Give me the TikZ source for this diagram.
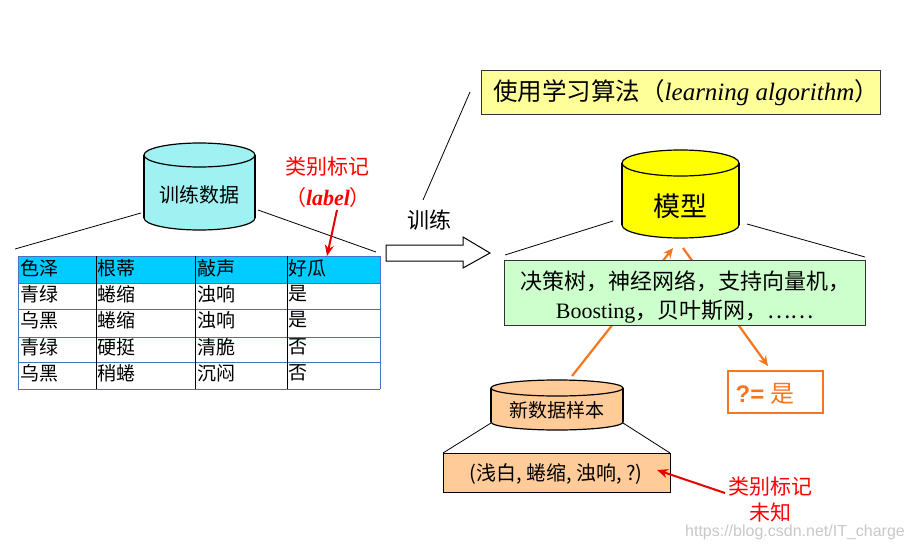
\documentclass[tikz,border=0pt]{standalone}
\usepackage{fontspec}
\setmainfont{Liberation Serif}
\newfontfamily\cjk{Noto Sans CJK SC}
\newfontfamily\wmfont{Liberation Sans}
\usetikzlibrary{arrows.meta}
\definecolor{cylcyan}{RGB}{160,242,242}
\definecolor{hdrcyan}{RGB}{0,204,255}
\definecolor{tblue}{RGB}{68,114,196}
\definecolor{lyellow}{RGB}{255,255,153}
\definecolor{myyellow}{RGB}{255,255,0}
\definecolor{lgreen}{RGB}{204,255,204}
\definecolor{peach}{RGB}{255,204,153}
\definecolor{myorange}{RGB}{245,118,30}
\definecolor{myred}{RGB}{255,0,0}
\definecolor{arrred}{RGB}{230,0,0}
\definecolor{wmgray}{RGB}{200,200,200}
\newcommand\drawmycyl[6]{%
  \filldraw[fill=#6,draw=black,line width=1.2pt] (#1,#3-#5) ellipse [x radius=#4pt, y radius=#5pt];
  \fill[#6] (#1-#4,#2+#5) rectangle (#1+#4,#3-#5);
  \draw[line width=1.2pt] (#1-#4,#2+#5) -- (#1-#4,#3-#5) (#1+#4,#2+#5) -- (#1+#4,#3-#5);
  \filldraw[fill=#6,draw=black,line width=1.2pt] (#1,#2+#5) ellipse [x radius=#4pt, y radius=#5pt];
}
\tikzset{
  lead/.style={line width=0.8pt,black},
  cell/.style={anchor=west,inner sep=0pt,font=\cjk\fontsize{19}{19}\selectfont},
  orarrow/.style={myorange,line width=2.2pt,-{Stealth[length=10pt,width=9pt]}},
  redarrow/.style={arrred,line width=2pt,-{Stealth[length=11pt,width=9pt]}},
  redtext/.style={myred,inner sep=0pt,font=\cjk\fontsize{21}{21}\selectfont},
}
\begin{document}
\begin{tikzpicture}[x=1pt,y=-1pt]
\useasboundingbox (0,0) rectangle (913,551);
\fill[white] (0,0) rectangle (913,551);

% ---------- training data cylinder ----------
\drawmycyl{199.5}{143}{230}{55.5}{12}{cylcyan}
\node[inner sep=0pt,font=\cjk\fontsize{20}{20}\selectfont] (train) at (199.5,195) {训练数据};
\coordinate (trL) at (141,213);
\coordinate (trR) at (258,210);
\coordinate (tbL) at (15,249);
\coordinate (tbR) at (376,252);
\draw[lead] (trL) -- (tbL);
\draw[lead] (trR) -- (tbR);

% ---------- table ----------
\fill[hdrcyan] (18,256) rectangle (380,283);
\foreach \y in {256,283,309,337,362,389} \draw[tblue,line width=0.8pt] (18,\y) -- (380,\y);
\draw[tblue,line width=0.8pt] (18,256) -- (18,389) (380,256) -- (380,389);
\foreach \x in {96,195,287} \draw[black,line width=0.9pt] (\x,256) -- (\x,389);
\foreach \y/\a/\b/\c/\d [count=\r] in {268/色泽/根蒂/敲声/好瓜,294/青绿/蜷缩/浊响/是,320/乌黑/蜷缩/浊响/是,347/青绿/硬挺/清脆/否,373/乌黑/稍蜷/沉闷/否}{
  \node[cell] (c\r a) at (20,\y) {\a};
  \node[cell] (c\r b) at (97,\y) {\b};
  \node[cell] (c\r c) at (197,\y) {\c};
  \node[cell] (c\r d) at (288,\y) {\d};
}

% ---------- label annotation ----------
\node[redtext] (lbl1) at (327,167) {类别标记};
\node[myred,inner sep=0pt] (lbl2) at (328,198) {{\cjk\fontsize{21}{21}\selectfont （}{\fontsize{22}{22}\selectfont\bfseries\itshape label}{\cjk\fontsize{21}{21}\selectfont ）}};
\coordinate (lblA) at (337,210);
\coordinate (lblB) at (327,256);
\draw[redarrow] (lblA) -- (lblB);

% ---------- training block arrow ----------
\node[inner sep=0pt,font=\cjk\fontsize{22}{22}\selectfont] (trtext) at (429,220) {训练};
\coordinate (ba1) at (386,245);
\coordinate (ba2) at (463,245);
\coordinate (ba3) at (463,237);
\coordinate (ba4) at (490,253);
\coordinate (ba5) at (463,268);
\coordinate (ba6) at (463,261);
\coordinate (ba7) at (386,261);
\draw[line width=1pt,fill=white] (ba1) -- (ba2) -- (ba3) -- (ba4) -- (ba5) -- (ba6) -- (ba7) -- cycle;

% ---------- algorithm box ----------
\node[draw=black!80,line width=1.2pt,fill=lyellow,minimum width=399pt,minimum height=44pt,anchor=north west,inner sep=0pt] (algo) at (481,70) {};
\node[inner sep=0pt] (algotext) at (686,93) {{\cjk\fontsize{24.5}{24.5}\selectfont 使用学习算法（}{\fontsize{25}{25}\selectfont\itshape learning algorithm}{\cjk\fontsize{24.5}{24.5}\selectfont ）}};
\coordinate (slA) at (470,92);
\coordinate (slB) at (423,200);
\draw[lead] (slA) -- (slB);

% ---------- orange arrows (behind green box) ----------
\coordinate (sampTop) at (572,376);
\coordinate (modBot1) at (673,248);
\coordinate (modBot2) at (683,248);
\coordinate (qTop) at (768,366);
\draw[orarrow] (sampTop) -- (modBot1);
\draw[orarrow] (modBot2) -- (qTop);

% ---------- model cylinder ----------
\drawmycyl{680.5}{150}{238}{58.5}{13}{myyellow}
\node[inner sep=0pt,font=\cjk\fontsize{27}{27}\selectfont] (model) at (680.5,206) {模型};
\coordinate (mdL) at (613,221);
\coordinate (mdR) at (747,224);
\coordinate (gbL) at (505,255);
\coordinate (gbR) at (865,257);
\draw[lead] (mdL) -- (gbL);
\draw[lead] (mdR) -- (gbR);

% ---------- algorithms box ----------
\node[draw=black!80,line width=1.2pt,fill=lgreen,minimum width=361pt,minimum height=65pt,anchor=north west,inner sep=0pt] (algs) at (504,260) {};
\node[inner sep=0pt,align=center] (algstext) at (685,297) {{\cjk\fontsize{22}{30}\selectfont 决策树，神经网络，支持向量机，}\\[7pt]{\fontsize{22}{30}\selectfont Boosting}{\cjk\fontsize{22}{30}\selectfont ，贝叶斯网，……}};

% ---------- result box ----------
\node[draw=myorange,line width=1.5pt,fill=white,minimum width=95pt,minimum height=42pt,anchor=north west,inner sep=0pt] (res) at (727,370) {};
\node[myorange,inner sep=0pt] (restext) at (765,394) {{\wmfont\bfseries\fontsize{24}{24}\selectfont ?=}\hspace{6pt}{\cjk\fontsize{24}{24}\selectfont 是}};

% ---------- new sample cylinder ----------
\drawmycyl{557}{380}{430}{66}{8}{peach}
\node[inner sep=0pt,font=\cjk\fontsize{19}{19}\selectfont] (samp) at (557,410) {新数据样本};
\coordinate (spL) at (491,423);
\coordinate (spR) at (623,423);
\coordinate (sbL) at (443,453);
\coordinate (sbR) at (670,453);
\draw[lead] (spL) -- (sbL);
\draw[lead] (spR) -- (sbR);
\node[draw=black,line width=1.2pt,fill=peach,minimum width=227pt,minimum height=39pt,anchor=north west,inner sep=0pt] (sbox) at (443,453) {};
\node[inner sep=0pt,font=\cjk\fontsize{20}{20}\selectfont] (stext) at (556,474) {(浅白, 蜷缩, 浊响, ?)};

% ---------- unknown label annotation ----------
\node[redtext] (unk1) at (770,487) {类别标记};
\node[redtext] (unk2) at (770,513) {未知};
\coordinate (unkA) at (725,493);
\coordinate (unkB) at (657,470);
\draw[redarrow] (unkA) -- (unkB);

% ---------- watermark ----------
\node[wmgray,inner sep=0pt,font=\wmfont\fontsize{16}{16}\selectfont] (wm) at (795,532) {https://blog.csdn.net/IT\_charge};
\end{tikzpicture}
\end{document}
